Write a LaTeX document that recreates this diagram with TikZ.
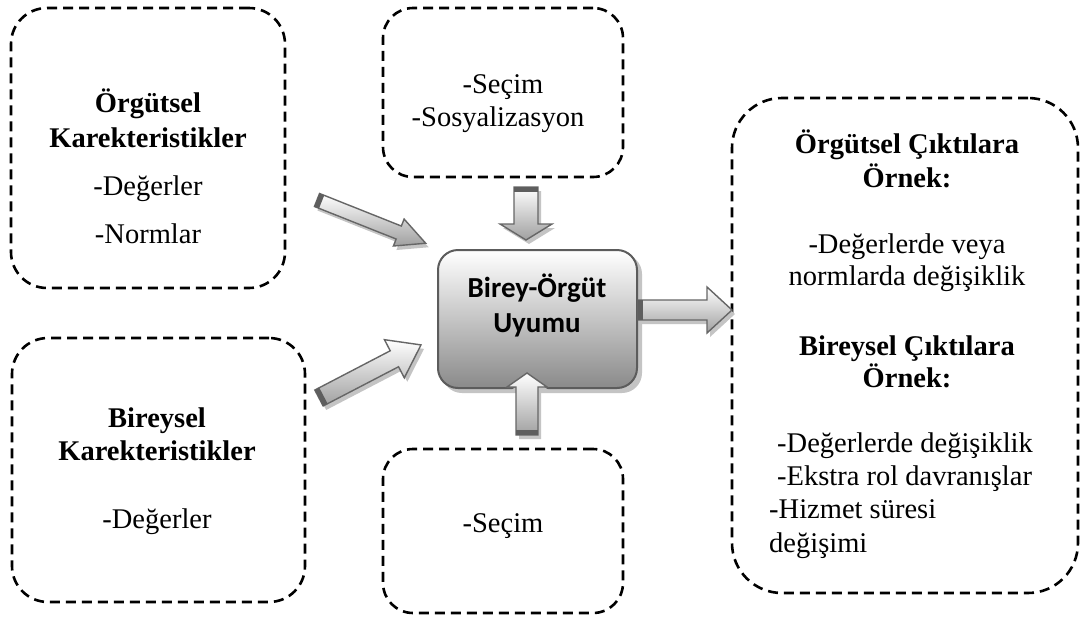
\documentclass[tikz,border=0pt]{standalone}
\usepackage{fontspec}
\setmainfont{Liberation Serif}
\newfontfamily\calfont{Carlito}
\definecolor{arrline}{HTML}{666666}
\definecolor{capgray}{HTML}{5E5E5E}
\definecolor{shadowgray}{HTML}{C4C4C4}
\definecolor{boxline}{HTML}{5C5C5C}
\definecolor{boxbottom}{HTML}{8A8A8A}
\definecolor{arrbottom}{HTML}{A0A0A0}
\tikzset{
  dbox/.style={draw=black, line width=2.6pt, dash pattern=on 10pt off 6pt, rectangle, inner sep=0pt},
  lbl/.style={font=\fontsize{28.5}{33}\selectfont, inner sep=0pt, anchor=base},
  blbl/.style={lbl, font=\fontsize{28.5}{33}\selectfont\bfseries},
  llbl/.style={lbl, anchor=base west},
  clbl/.style={font=\fontsize{29}{34}\selectfont\calfont\bfseries, inner sep=0pt, anchor=base},
  arrshape/.style={draw=arrline, line width=1.4pt, line join=miter, top color=white, bottom color=arrbottom},
}
% tail x, tail y, angle, length, shaft half, head half, head length
\newcommand{\blockarr}[7]{%
  \fill[shadowgray, shift={({#1+3},{#2+4})}, rotate=#3]
    (0,-#5) -- ({#4-#7},-#5) -- ({#4-#7},-#6) -- (#4,0) -- ({#4-#7},#6) -- ({#4-#7},#5) -- (0,#5) -- cycle;
  \path[arrshape, shift={(#1,#2)}, rotate=#3]
    (0,-#5) -- ({#4-#7},-#5) -- ({#4-#7},-#6) -- (#4,0) -- ({#4-#7},#6) -- ({#4-#7},#5) -- (0,#5) -- cycle;
  \fill[capgray, shift={(#1,#2)}, rotate=#3] (0,-#5) rectangle (5,#5);
}
\begin{document}
\begin{tikzpicture}[x=1pt,y=-1pt]
\useasboundingbox[fill=white] (0,0) rectangle (1080,619);

% dashed boxes
\node[dbox, rounded corners=36pt, minimum width=274pt, minimum height=280pt] (orgkar) at (148,148) {};
\node[dbox, rounded corners=30pt, minimum width=240pt, minimum height=169pt] (secsos) at (503,92.5) {};
\node[dbox, rounded corners=36pt, minimum width=293pt, minimum height=264pt] (birkar) at (158.5,470) {};
\node[dbox, rounded corners=30pt, minimum width=240pt, minimum height=164pt] (secim) at (503,531) {};
\node[dbox, rounded corners=50pt, minimum width=346pt, minimum height=495pt] (cikti) at (905,345.5) {};

% box texts
\node[blbl] (t1a) at (148,112) {Örgütsel};
\node[blbl] (t1b) at (148,147) {Karekteristikler};
\node[lbl]  (t1c) at (148,195) {-Değerler};
\node[lbl]  (t1d) at (148,243) {-Normlar};

\node[lbl] (t2a) at (503,93) {-Seçim};
\node[lbl] (t2b) at (498,126) {-Sosyalizasyon};

\node[blbl] (t3a) at (157,427) {Bireysel};
\node[blbl] (t3b) at (157,460) {Karekteristikler};
\node[lbl]  (t3c) at (157,528) {-Değerler};

\node[lbl] (t4a) at (503,532) {-Seçim};

\node[blbl] (t5a) at (907,153) {Örgütsel Çıktılara};
\node[blbl] (t5b) at (907,187) {Örnek:};
\node[lbl]  (t5c) at (907,253) {-Değerlerde veya};
\node[lbl]  (t5d) at (907,285) {normlarda değişiklik};
\node[blbl] (t5e) at (907,355) {Bireysel Çıktılara};
\node[blbl] (t5f) at (907,387) {Örnek:};
\node[llbl] (t5g) at (777,452) {-Değerlerde değişiklik};
\node[llbl] (t5h) at (777,485) {-Ekstra rol davranışlar};
\node[llbl] (t5i) at (769,518) {-Hizmet süresi};
\node[llbl] (t5j) at (769,552) {değişimi};

% central box
\fill[shadowgray, rounded corners=20pt] (442,254) rectangle (642,393);
\node[draw=boxline, line width=2pt, rounded corners=20pt, top color=white, bottom color=boxbottom,
      minimum width=199pt, minimum height=138pt, inner sep=0pt] (uyum) at (537.5,319) {};
\node[clbl] (u1) at (537,297) {Birey-Örgüt};
\node[clbl] (u2) at (537,332) {Uyumu};

% block arrows
\blockarr{317}{200}{-21.7}{117}{7}{14.5}{29}
\blockarr{319}{398}{27.5}{115}{9}{21.5}{30}
\blockarr{526}{187}{-90}{53}{12}{26}{16}
\blockarr{527}{435}{90}{62}{11}{20}{14}
\blockarr{638}{310}{0}{94}{10}{23}{25}
\end{tikzpicture}
\end{document}
